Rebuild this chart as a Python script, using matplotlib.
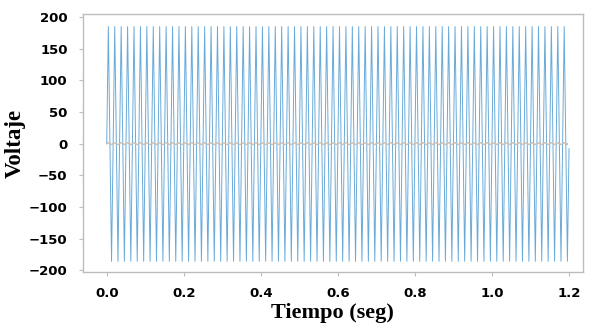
import numpy as np
import matplotlib.pyplot as plt

# Datos: 60 Hz, 72 ciclos en 1.2 s
medio_periodo = 1 / 120  # seg entre un pico y el siguiente valle

# picos positivos y negativos del voltaje (V), uno por ciclo
picos_pos = [
    185, 185, 185, 185, 185, 185, 185, 185, 185, 185, 185, 185,
    185, 185, 185, 185, 185, 185, 185, 185, 185, 185, 185, 185,
    185, 185, 185, 185, 185, 185, 185, 185, 185, 185, 185, 185,
    185, 185, 185, 185, 185, 185, 185, 185, 185, 185, 185, 185,
    185, 185, 185, 185, 185, 185, 185, 185, 185, 185, 185, 185,
    185, 185, 185, 185, 185, 185, 185, 185, 185, 185, 185, 185,
]
picos_neg = [
    -186, -186, -186, -186, -186, -186, -186, -186, -186, -186, -186, -186,
    -186, -186, -186, -186, -186, -186, -186, -186, -186, -186, -186, -186,
    -186, -186, -186, -186, -186, -186, -186, -186, -186, -186, -186, -186,
    -186, -186, -186, -186, -186, -186, -186, -186, -186, -186, -186, -186,
    -186, -186, -186, -186, -186, -186, -186, -186, -186, -186, -186, -186,
    -186, -186, -186, -186, -186, -186, -186, -186, -186, -186, -186, -186,
]
# segunda senal (casi plana, cerca de cero)
rizo_pos = [
    1.5, 1.5, 1.5, 1.5, 1.5, 1.5, 1.5, 1.5, 1.5, 1.5, 1.5, 1.5,
    1.5, 1.5, 1.5, 1.5, 1.5, 1.5, 1.5, 1.5, 1.5, 1.5, 1.5, 1.5,
    1.5, 1.5, 1.5, 1.5, 1.5, 1.5, 1.5, 1.5, 1.5, 1.5, 1.5, 1.5,
    1.5, 1.5, 1.5, 1.5, 1.5, 1.5, 1.5, 1.5, 1.5, 1.5, 1.5, 1.5,
    1.5, 1.5, 1.5, 1.5, 1.5, 1.5, 1.5, 1.5, 1.5, 1.5, 1.5, 1.5,
    1.5, 1.5, 1.5, 1.5, 1.5, 1.5, 1.5, 1.5, 1.5, 1.5, 1.5, 1.5,
]
rizo_neg = [-v for v in rizo_pos]

xticks = [0.0, 0.2, 0.4, 0.6, 0.8, 1.0, 1.2]
yticks = [-200, -150, -100, -50, 0, 50, 100, 150, 200]


def vertices(pos, neg, v_fin, t_fin=1.2):
    # une inicio (0), pico, valle, ... y el valor final
    vals = [0.0]
    for p, n in zip(pos, neg):
        vals += [p, n]
    t = [0.0] + list(medio_periodo / 2 + medio_periodo * np.arange(len(vals) - 1))
    t.append(t_fin)
    vals.append(v_fin)
    return np.array(t), np.array(vals)


t_v, v = vertices(picos_pos, picos_neg, -8.0)
t_r, r = vertices(rizo_pos, rizo_neg, 0.0, 1.195)

fig = plt.figure(figsize=(5.96, 3.31), dpi=100)
ax = fig.add_axes([0.139, 0.178, 0.839, 0.780])

ax.plot(t_v, v, color="#6aaad8", lw=0.7)
ax.plot(t_r, r, color="#c9bfb4", lw=1.0)

ax.set_xlim(-0.062, 1.236)
ax.set_ylim(-203, 205)
ax.set_xticks(xticks)
ax.set_xticklabels([f"{x:.1f}" for x in xticks])
ax.set_yticks(yticks)

for s in ax.spines.values():
    s.set_color("#bdbdbd")
    s.set_linewidth(1.0)
ax.tick_params(colors="#bdbdbd", length=3, width=0.8, labelcolor="black",
               labelsize=9.5)
for lbl in ax.get_xticklabels() + ax.get_yticklabels():
    lbl.set_fontweight("bold")
ax.tick_params(axis="x", pad=8)
ax.tick_params(axis="y", pad=8)

ax.set_xlabel("Tiempo (seg)", family="Liberation Serif", fontweight="bold",
              fontsize=16, labelpad=2)
ax.set_ylabel("Voltaje", family="Liberation Serif", fontweight="bold",
              fontsize=16.5, labelpad=2)

fig.savefig("out.png", dpi=100)
